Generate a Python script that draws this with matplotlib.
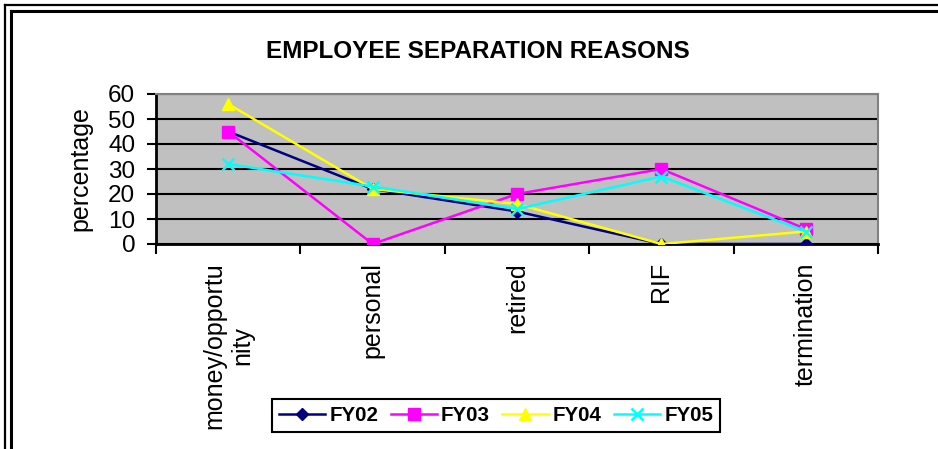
import matplotlib.pyplot as plt
from matplotlib.lines import Line2D

plt.rcParams['font.family'] = ['Liberation Sans', 'DejaVu Sans']

# data
categories = ['money/opportu\nnity', 'personal', 'retired', 'RIF', 'termination']
fy02 = [45, 22, 13, 0, 0]
fy03 = [45, 0, 20, 30, 6]
fy04 = [56, 22, 16, 0, 5]
fy05 = [32, 23, 14, 27, 5]
yticks = [0, 10, 20, 30, 40, 50, 60]

W, H = 938, 449
fig = plt.figure(figsize=(W / 100, H / 100), dpi=100)

# double frame on top / left edges
for px, lw in [(4.5, 1.6), (10.5, 2.2)]:
    fig.add_artist(Line2D([px / W, 1], [1 - px / H, 1 - px / H], color='black', lw=lw,
                          transform=fig.transFigure))
    fig.add_artist(Line2D([px / W, px / W], [0, 1 - px / H], color='black', lw=lw,
                          transform=fig.transFigure))

ax = fig.add_axes([156 / W, (H - 244) / H, 722 / W, 150 / H])
ax.set_facecolor('#C0C0C0')

x = list(range(len(categories)))
ax.plot(x, fy02, color='#000080', lw=1.8, marker='D', ms=6, label='FY02', zorder=3)
ax.plot(x, fy03, color='#FF00FF', lw=1.8, marker='s', ms=8, label='FY03', zorder=3)
ax.plot(x, fy04, color='#FFFF00', lw=1.8, marker='^', ms=9, label='FY04', zorder=3)
ax.plot(x, fy05, color='#00FFFF', lw=1.8, marker='x', ms=9, mew=1.8, label='FY05', zorder=4)

ax.set_xlim(-0.5, len(categories) - 0.5)
ax.set_ylim(0, 60)
ax.set_yticks(yticks)
ax.set_yticklabels([str(v) for v in yticks], fontsize=17.5)
ax.yaxis.grid(True, color='black', lw=1.5)
ax.set_axisbelow(True)

ax.set_xticks([i - 0.5 for i in range(len(categories) + 1)])
ax.set_xticklabels([])
ax.set_xticks(x, minor=True)
ax.set_xticklabels(categories, minor=True, rotation=90, fontsize=18,
                   va='top', ha='center', multialignment='center')
ax.tick_params(axis='x', which='major', length=7, width=1.5, direction='out')
ax.tick_params(axis='x', which='minor', length=0, pad=13)
ax.tick_params(axis='y', length=6.5, width=1.5, direction='out', pad=8.5)

for s in ['left', 'bottom']:
    ax.spines[s].set_linewidth(2)
    ax.spines[s].set_color('black')
for s in ['top', 'right']:
    ax.spines[s].set_linewidth(1.5)
    ax.spines[s].set_color('#808080')

ax.set_ylabel('percentage', fontsize=18)
ax.yaxis.set_label_coords(-0.088, 0.5)

fig.text(478 / W, 1 - 52 / H, 'EMPLOYEE SEPARATION REASONS', ha='center', va='center',
         fontsize=17.5, fontweight='bold')

leg = fig.legend(loc='center', bbox_to_anchor=(496 / W, 1 - 415.5 / H), ncol=4,
                 fancybox=False, edgecolor='black', framealpha=1,
                 prop={'weight': 'bold', 'size': 14.8}, handlelength=2.25,
                 columnspacing=0.6, handletextpad=0.2, borderpad=0.35,
                 borderaxespad=0)
leg.get_frame().set_linewidth(1.5)

fig.savefig('out.png', dpi=100)
